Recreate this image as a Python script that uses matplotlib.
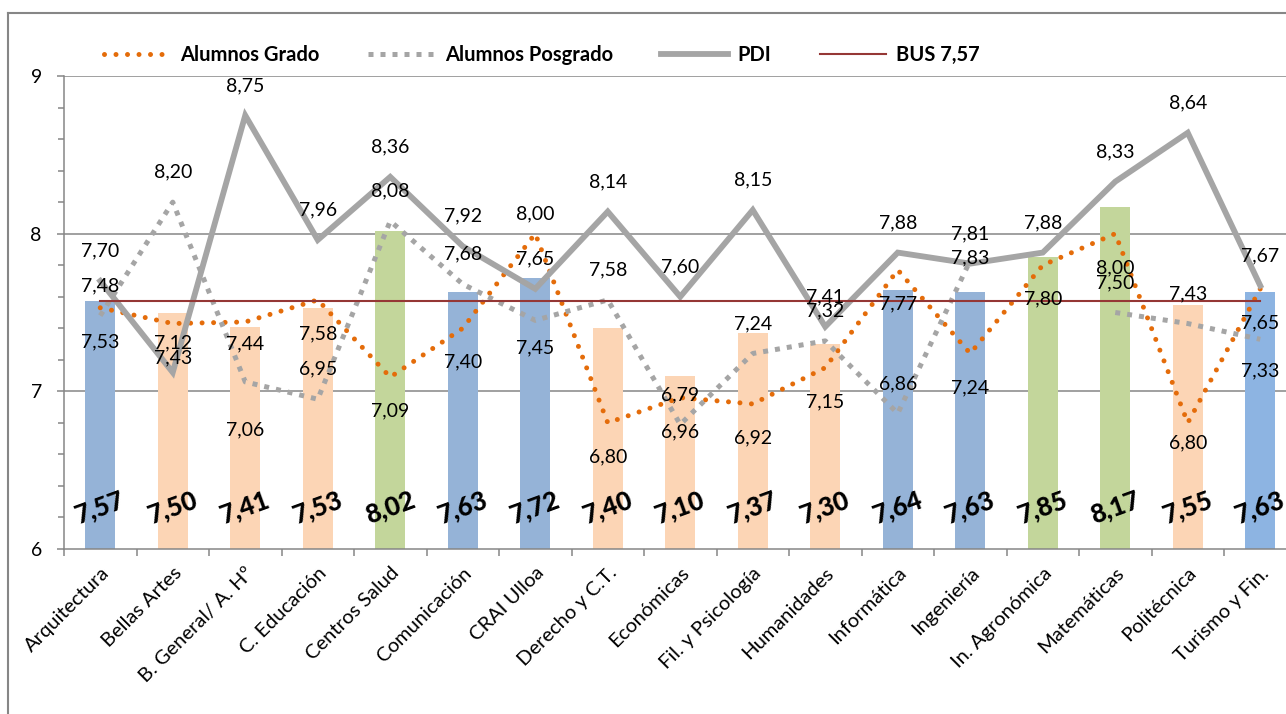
import numpy as np
import matplotlib
matplotlib.use("Agg")
import matplotlib.pyplot as plt
from matplotlib.lines import Line2D

# ---- data -------------------------------------------------------------
categories = [
    "Arquitectura", "Bellas Artes", "B. General/ A. Hº", "C. Educación",
    "Centros Salud", "Comunicación", "CRAI Ulloa", "Derecho y C.T.",
    "Económicas", "Fil. y Psicología", "Humanidades", "Informática",
    "Ingeniería", "In. Agronómica", "Matemáticas", "Politécnica",
    "Turismo y Fin.",
]
global_scores = [7.57, 7.50, 7.41, 7.53, 8.02, 7.63, 7.72, 7.40, 7.10,
                 7.37, 7.30, 7.64, 7.63, 7.85, 8.17, 7.55, 7.63]
alumnos_grado = [7.53, 7.43, 7.44, 7.58, 7.09, 7.40, 8.00, 6.80, 6.96,
                 6.92, 7.15, 7.77, 7.24, 7.80, 8.00, 6.80, 7.65]
alumnos_posgrado = [7.48, 8.20, 7.06, 6.95, 8.08, 7.68, 7.45, 7.58, 6.79,
                    7.24, 7.32, 6.86, 7.83, np.nan, 7.50, 7.43, 7.33]
pdi = [7.70, 7.12, 8.75, 7.96, 8.36, 7.92, 7.65, 8.14, 7.60,
       8.15, 7.41, 7.88, 7.81, 7.88, 8.33, 8.64, 7.67]
bus_value = 7.57
bus_label = "BUS 7,57"

# ---- style --------------------------------------------------------------
BLUE, PEACH, GREEN = "#95B3D7", "#FCD5B5", "#C3D69B"
bar_colors = [BLUE, PEACH, PEACH, PEACH, GREEN, BLUE, BLUE, PEACH, PEACH,
              PEACH, PEACH, BLUE, BLUE, GREEN, GREEN, PEACH, "#8DB4E2"]
ORANGE = "#E46C0A"
GREY = "#A5A5A5"
DARKRED = "#953735"
AXIS_GREY = "#868686"

# label offsets (pixels; positive = below the point) where the default differs
grado_dy_default = 34
grado_dy = {"CRAI Ulloa": -20, "B. General/ A. Hº": 22, "Politécnica": 20}
posgrado_dy_default = -30
posgrado_dy = {"B. General/ A. Hº": 48, "CRAI Ulloa": 27,
               "Turismo y Fin.": 32, "Ingeniería": -3}
pdi_dy_default = -30

plt.rcParams["font.family"] = ["Lato", "DejaVu Sans"]

DPI = 100
fig = plt.figure(figsize=(12.86, 7.14), dpi=DPI)
W, H = 1286, 714
left_px, right_px, top_px, bottom_px = 64, 1296.5, 76, 549
ax = fig.add_axes([left_px / W, 1 - bottom_px / H,
                   (right_px - left_px) / W, (bottom_px - top_px) / H])

x = np.arange(len(categories))
ax.set_xlim(-0.5, len(categories) - 0.5)
ax.set_ylim(6, 9)

# gridlines behind everything
for yv in (7, 8, 9):
    ax.axhline(yv, color=AXIS_GREY, lw=1.1, zorder=0)

ax.bar(x, global_scores, width=0.41, color=bar_colors, zorder=1)

px2pt = 72.0 / DPI

ax.plot(x, alumnos_grado, color=ORANGE, lw=3.6,
        linestyle=(0, (0.001, 2.3)), dash_capstyle="round", zorder=3,
        label="Alumnos Grado")
ax.plot(x, alumnos_posgrado, color=GREY, lw=3.6,
        linestyle=(0, (1.0, 1.4)), dash_capstyle="butt", zorder=3,
        label="Alumnos Posgrado")
ax.plot(x, pdi, color=GREY, lw=4.2, solid_joinstyle="miter", zorder=4,
        label="PDI")
ax.plot(x, [bus_value] * len(x), color=DARKRED, lw=1.5, zorder=5,
        label=bus_label)


def fmt(v):
    return f"{v:.2f}".replace(".", ",")


def put_labels(values, default_dy, overrides):
    for xi, cat, v in zip(x, categories, values):
        if np.isnan(v):
            continue
        dy = overrides.get(cat, default_dy)
        ax.annotate(fmt(v), (xi, v), xytext=(0, -dy * px2pt),
                    textcoords="offset points", ha="center", va="center",
                    fontsize=14, color="black", zorder=6)


put_labels(alumnos_grado, grado_dy_default, grado_dy)
put_labels(alumnos_posgrado, posgrado_dy_default, posgrado_dy)
put_labels(pdi, pdi_dy_default, {})

# bar value labels near the base, tilted
for xi, v in zip(x, global_scores):
    ax.annotate(fmt(v), (xi, 6), xytext=(0, 42 * px2pt),
                textcoords="offset points", ha="center", va="center",
                fontsize=18.5, fontweight="black", rotation=20, zorder=7)

# axes styling
for side in ("top", "right"):
    ax.spines[side].set_visible(False)
for side in ("left", "bottom"):
    ax.spines[side].set_color(AXIS_GREY)
    ax.spines[side].set_linewidth(1.1)

ax.set_yticks([6, 7, 8, 9])
ax.set_yticklabels(["6", "7", "8", "9"], fontsize=14)
ax.set_yticks(np.arange(6, 9.001, 0.2), minor=True)
ax.tick_params(axis="y", which="both", direction="out", color=AXIS_GREY,
               width=1.1, pad=11)
ax.tick_params(axis="y", which="major", length=5)
ax.tick_params(axis="y", which="minor", length=4)

ax.set_xticks(x)
ax.set_xticklabels(categories, rotation=45, ha="right",
                   rotation_mode="anchor", fontsize=14.5)
ax.set_xticks(np.arange(-0.5, len(categories), 1.0), minor=True)
ax.tick_params(axis="x", which="major", length=0, pad=11)
ax.tick_params(axis="x", which="minor", length=5, color=AXIS_GREY,
               width=1.1, direction="out")

# legend across the top
handles, labels = ax.get_legend_handles_labels()
fig.legend(handles, labels, loc="center left",
           bbox_to_anchor=(104 / W, 1 - 55 / H), ncol=4, frameon=False,
           prop={"weight": "bold", "size": 14.5}, handlelength=3.3,
           handletextpad=0.5, columnspacing=2.4, borderpad=0,
           borderaxespad=0)

# chart frame edges
fig.add_artist(Line2D([8 / W, 8 / W], [0, 1 - 13 / H], transform=fig.transFigure,
                      color=AXIS_GREY, lw=1.5))
fig.add_artist(Line2D([8 / W, 1], [1 - 13 / H, 1 - 13 / H],
                      transform=fig.transFigure, color=AXIS_GREY, lw=1.5))

fig.savefig("out.png", dpi=DPI)
